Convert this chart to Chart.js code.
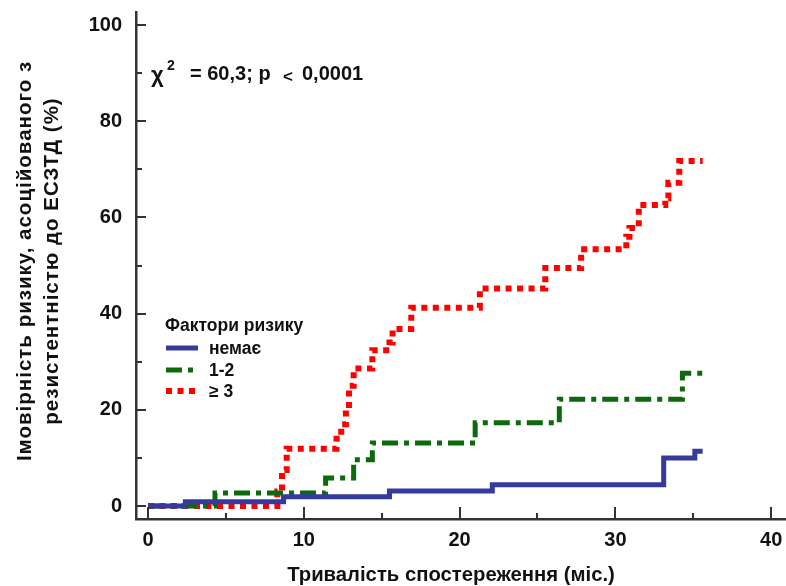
<!DOCTYPE html>
<html>
<head>
<meta charset="utf-8">
<script src="https://cdn.jsdelivr.net/npm/chart.js@4/dist/chart.umd.min.js"></script>
<style>
  html, body { margin: 0; padding: 0; background: #fff; }
  canvas { display: block; }
</style>
</head>
<body>
<canvas id="kmChart" width="786" height="586"></canvas>
<script>
// months of follow-up and cumulative risk (%) per group
const groupLabels = ['немає', '1-2', '≥ 3'];
const noneMonths = [0, 2.4, 8.7, 15.5, 22.1, 33.1, 35.1, 35.6];
const noneRisk = [0, 0.9, 1.9, 3.1, 4.4, 10.0, 11.4, 11.4];
const midMonths = [0, 4.3, 11.4, 13.2, 14.4, 21.0, 26.4, 34.3, 35.6];
const midRisk = [0, 2.7, 5.8, 9.6, 13.1, 17.3, 22.2, 27.6, 27.6];
const highMonths = [0, 8.3, 8.6, 8.9, 12.1, 12.4, 12.7, 12.9, 13.2, 14.4, 15.5, 15.7, 16.9, 21.3, 25.5, 27.8, 30.7, 30.9, 31.5, 33.2, 33.4, 34.1, 35.6];
const highRisk = [0, 3, 7.5, 11.9, 14, 17, 21, 25, 28.6, 32.4, 34, 36.8, 41.2, 45.2, 49.5, 53.4, 56, 57.8, 62.6, 64, 67.2, 71.7, 71.7];
const xTicks = [0, 10, 20, 30, 40];
const xMinorTicks = [5, 15, 25, 35];
const yTicks = [0, 20, 40, 60, 80, 100];
const yMinorTicks = [10, 30, 50, 70, 90];
const xTitle = 'Тривалість спостереження (міс.)';
const yTitle = ['Імовірність ризику, асоційованого з', 'резистентністю до ЕСЗТД (%)'];

const FONT = '"Liberation Sans", Arial, sans-serif';
const INK = '#111';
const AXIS = '#333';

function toPoints(months, risk) {
    return months.map((m, i) => ({ x: m, y: risk[i] }));
}

// tick marks pointing into the plot, like the original
const innerTicks = {
    id: 'innerTicks',
    afterDraw(chart) {
        const { ctx, chartArea, scales } = chart;
        ctx.save();
        ctx.strokeStyle = AXIS;
        ctx.lineWidth = 2;
        const xs = scales.x, ys = scales.y;
        const tickX = (v, len) => {
            const px = Math.round(xs.getPixelForValue(v));
            ctx.beginPath();
            ctx.moveTo(px, chartArea.bottom);
            ctx.lineTo(px, chartArea.bottom - len);
            ctx.stroke();
        };
        const tickY = (v, len) => {
            const py = Math.round(ys.getPixelForValue(v));
            ctx.beginPath();
            ctx.moveTo(chartArea.left, py);
            ctx.lineTo(chartArea.left + len, py);
            ctx.stroke();
        };
        xTicks.forEach(v => tickX(v, 12));
        xMinorTicks.forEach(v => tickX(v, 6));
        yTicks.forEach(v => tickY(v, 10));
        yMinorTicks.forEach(v => tickY(v, 6));
        ctx.restore();
    }
};

// axis titles, chi-square note and the legend block inside the plot
const notes = {
    id: 'notes',
    afterDraw(chart) {
        const { ctx } = chart;
        ctx.save();
        ctx.fillStyle = INK;
        ctx.textBaseline = 'middle';

        // axis titles
        ctx.textAlign = 'center';
        ctx.font = 'bold 20.3px ' + FONT;
        ctx.fillText(xTitle, 451, 575);
        ctx.save();
        ctx.letterSpacing = '1px';
        ctx.font = 'bold 20.5px ' + FONT;
        ctx.translate(25, 261);
        ctx.rotate(-Math.PI / 2);
        ctx.fillText(yTitle[0], 0, 0);
        ctx.fillText(yTitle[1], 0, 27);
        ctx.restore();

        ctx.textAlign = 'left';
        ctx.font = 'bold 22px ' + FONT;
        ctx.fillText('χ', 151, 76);
        ctx.font = 'bold 14px ' + FONT;
        ctx.fillText('2', 167, 66);
        ctx.font = 'bold 20px ' + FONT;
        ctx.fillText('= 60,3; p', 190, 74);
        ctx.font = 'bold 17px ' + FONT;
        ctx.fillText('<', 283, 77);
        ctx.font = 'bold 20px ' + FONT;
        ctx.fillText('0,0001', 302, 74);

        ctx.font = 'bold 17.5px ' + FONT;
        ctx.fillText('Фактори ризику', 165, 326);
        const rows = [348, 370, 391];
        chart.data.datasets.forEach((ds, i) => {
            const y = rows[i];
            ctx.save();
            ctx.strokeStyle = ds.borderColor;
            ctx.lineWidth = ds.borderWidth;
            ctx.setLineDash(ds.borderDash || []);
            ctx.beginPath();
            ctx.moveTo(166, y);
            ctx.lineTo(198, y);
            ctx.stroke();
            ctx.restore();
            ctx.fillText(ds.label, 209, y + 1);
        });
        ctx.restore();
    }
};

new Chart(document.getElementById('kmChart'), {
    type: 'line',
    data: {
        datasets: [
            {
                label: groupLabels[0],
                data: toPoints(noneMonths, noneRisk),
                borderColor: '#363a9c',
                borderWidth: 5,
                stepped: 'before',
                pointRadius: 0
            },
            {
                label: groupLabels[1],
                data: toPoints(midMonths, midRisk),
                borderColor: '#0b6a0b',
                borderWidth: 5,
                borderDash: [16, 6, 5, 6],
                stepped: 'before',
                pointRadius: 0
            },
            {
                label: groupLabels[2],
                data: toPoints(highMonths, highRisk),
                borderColor: '#ff0000',
                borderWidth: 6,
                borderDash: [6, 5.5],
                stepped: 'before',
                pointRadius: 0
            }
        ]
    },
    options: {
        responsive: false,
        animation: false,
        layout: { padding: { top: 12, right: 0, left: 0, bottom: 0 } },
        plugins: {
            legend: { display: false },
            tooltip: { enabled: false }
        },
        scales: {
            x: {
                type: 'linear',
                min: -0.77,
                max: 40.95,
                afterBuildTicks: s => { s.ticks = xTicks.map(v => ({ value: v })); },
                afterFit: s => {
                    s.height = 67;
                    s.paddingLeft = 0;
                    s.paddingRight = 0;
                },
                grid: { display: true, drawOnChartArea: false, drawTicks: false },
                border: { display: true, color: AXIS, width: 2.5 },
                ticks: {
                    padding: 9,
                    color: INK,
                    font: { family: FONT, size: 20, weight: 'bold' }
                }
            },
            y: {
                type: 'linear',
                min: -2.7,
                max: 102.7,
                afterBuildTicks: s => { s.ticks = yTicks.map(v => ({ value: v })); },
                afterFit: s => {
                    s.width = 136;
                    s.paddingTop = 0;
                    s.paddingBottom = 0;
                },
                grid: { display: true, drawOnChartArea: false, drawTicks: false },
                border: { display: true, color: AXIS, width: 2.5 },
                ticks: {
                    padding: 14,
                    color: INK,
                    font: { family: FONT, size: 20, weight: 'bold' }
                }
            }
        }
    },
    plugins: [innerTicks, notes]
});
</script>
</body>
</html>
